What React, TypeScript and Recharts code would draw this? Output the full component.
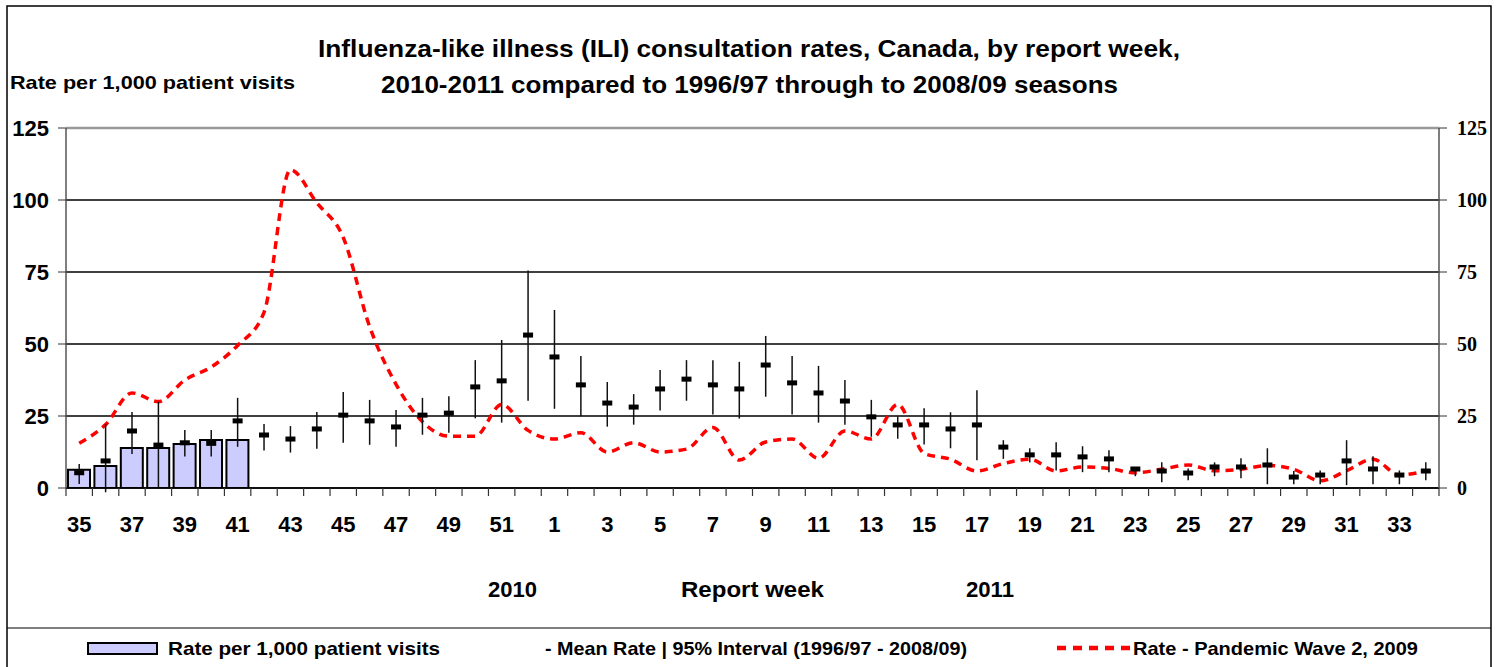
import React from 'react';
import { ComposedChart, Bar, Line, XAxis, YAxis, CartesianGrid, ErrorBar, ReferenceLine } from 'recharts';

// report weeks, 2010 (35-52) then 2011 (1-34)
const WEEKS = [
  '35', '36', '37', '38', '39', '40', '41', '42', '43', '44', '45', '46', '47', '48', '49', '50', '51', '52',
  '1', '2', '3', '4', '5', '6', '7', '8', '9', '10', '11', '12', '13', '14', '15', '16', '17',
  '18', '19', '20', '21', '22', '23', '24', '25', '26', '27', '28', '29', '30', '31', '32', '33', '34',
];

// 2010-2011 observed rate (only first weeks reported)
const RATE = [6.3, 7.6, 13.9, 13.9, 15.3, 16.7, 16.7];

// mean rate 1996/97 - 2008/09 and its 95% interval
const MEAN = [
  5.3, 9.4, 19.8, 14.9, 15.7, 15.5, 23.3, 18.4, 17.0, 20.5, 25.3, 23.3, 21.2, 25.3, 26.0, 35.1, 37.2, 53.1,
  45.5, 35.8, 29.5, 28.1, 34.4, 37.8, 35.8, 34.4, 42.7, 36.5, 33.0, 30.2, 24.7, 21.9, 21.9, 20.5, 21.9,
  14.2, 11.5, 11.5, 10.8, 10.1, 6.6, 5.9, 5.2, 7.3, 7.3, 8.0, 3.8, 4.5, 9.4, 6.6, 4.5, 5.9,
];
const CI_LOW = [
  1.4, -1.5, 11.8, 0, 10.9, 10.9, 14.3, 13.0, 12.3, 13.6, 15.7, 15.0, 14.3, 18.5, 19.2, 24.2, 22.7, 30.3,
  27.5, 24.9, 21.3, 22.0, 26.9, 30.3, 25.5, 24.1, 31.7, 25.5, 22.7, 22.0, 17.8, 17.1, 15.1, 13.8, 9.6,
  10.1, 8.9, 6.1, 5.5, 5.5, 4.1, 2.0, 2.7, 4.1, 3.4, 1.3, 1.3, 1.3, 1.0, 1.3, 1.3, 2.7,
];
const CI_HIGH = [
  8.3, 22.2, 26.4, 29.9, 20.1, 20.1, 31.3, 22.2, 21.5, 26.4, 33.3, 30.6, 27.1, 31.3, 31.9, 44.4, 51.4, 75.5,
  61.8, 45.8, 36.8, 32.6, 41.0, 44.4, 44.4, 43.8, 52.8, 45.8, 42.4, 37.5, 30.6, 24.9, 27.7, 26.3, 33.9,
  16.6, 13.8, 15.9, 14.5, 13.1, 7.3, 8.9, 6.8, 8.9, 10.3, 13.8, 5.9, 6.1, 16.6, 11.0, 6.1, 8.9,
];

// pandemic wave 2, 2009
const PANDEMIC = [
  15.5, 22, 33, 30, 37.5, 42, 49.5, 61, 110.5, 99, 87, 56, 36, 23, 18, 18, 29, 20,
  17, 19.2, 12.5, 15.7, 12.5, 13.5, 21, 9.7, 16, 17, 10.3, 19.8, 17, 29, 12, 10, 5.9,
  8.5, 10, 5.9, 7.3, 6.8, 5.3, 6.5, 8, 6, 6.5, 7.8, 6.5, 2.5, 6, 10, 4.5, 6,
];

const Y_TICKS = [0, 25, 50, 75, 100, 125];

const data = WEEKS.map((week, i) => ({
  week,
  rate: i < RATE.length ? RATE[i] : null,
  mean: MEAN[i],
  ci: [MEAN[i] - CI_LOW[i], CI_HIGH[i] - MEAN[i]],
  pandemic: PANDEMIC[i],
}));

const W = 1502;
const H = 667;
const LEFT_W = 66;
const RIGHT_W = 63;
const STEP = (W - LEFT_W - RIGHT_W) / WEEKS.length;
const SANS = '"Liberation Sans", Arial, sans-serif';
const SERIF = '"Liberation Serif", "Times New Roman", serif';

function WeekTick(props: any) {
  const { x, y, payload, index } = props;
  const half = STEP / 2;
  return (
    <g>
      <line x1={x - half} x2={x - half} y1={y} y2={y + 8} stroke="#333" strokeWidth={1.2} />
      {index === WEEKS.length - 1 && (
        <line x1={x + half} x2={x + half} y1={y} y2={y + 8} stroke="#333" strokeWidth={1.2} />
      )}
      {index % 2 === 0 && (
        <text x={x} y={y + 44} textAnchor="middle" fontFamily={SANS} fontWeight="bold" fontSize={22} fill="#000">
          {payload.value}
        </text>
      )}
    </g>
  );
}

function MeanDot(p: any) {
  if (p.cx == null || p.cy == null) return <g key={p.index} />;
  return <rect key={p.index} x={p.cx - 5} y={p.cy - 2.5} width={10} height={5} fill="#000" />;
}

export default function App() {
  return (
    <div style={{ position: 'absolute', left: 0, top: 0, width: W, height: H, background: '#fff' }}>
      <ComposedChart
        width={W}
        height={H}
        data={data}
        margin={{ top: 128, right: 0, bottom: 139, left: 0 }}
        barCategoryGap={0}
      >
        <CartesianGrid yAxisId="left" vertical={false} stroke="#000" strokeWidth={1.4} strokeOpacity={1} />
        <ReferenceLine yAxisId="left" y={125} stroke="#999" strokeWidth={2.5} />
        <XAxis
          dataKey="week"
          interval={0}
          height={40}
          tickLine={false}
          tickSize={0}
          tickMargin={0}
          axisLine={{ stroke: '#000', strokeWidth: 1.5 }}
          tick={<WeekTick />}
        />
        <YAxis
          yAxisId="left"
          domain={[0, 125]}
          ticks={Y_TICKS}
          interval={0}
          allowDataOverflow
          width={LEFT_W}
          tickSize={8}
          tickMargin={9}
          axisLine={{ stroke: '#555', strokeWidth: 1.5 }}
          tickLine={{ stroke: '#333' }}
          tick={{ fontSize: 22, fontWeight: 'bold', fill: '#000', fontFamily: SANS }}
        />
        <YAxis
          yAxisId="right"
          orientation="right"
          domain={[0, 125]}
          ticks={Y_TICKS}
          interval={0}
          allowDataOverflow
          width={RIGHT_W}
          tickSize={8}
          tickMargin={10}
          axisLine={{ stroke: '#555', strokeWidth: 1.5 }}
          tickLine={{ stroke: '#333' }}
          tick={{ fontSize: 20, fontWeight: 'bold', fill: '#000', fontFamily: SERIF }}
        />
        <Bar
          yAxisId="left"
          dataKey="rate"
          fill="#CCCCFF"
          stroke="#000"
          strokeWidth={2}
          barSize={22}
          isAnimationActive={false}
        />
        <Line
          yAxisId="left"
          type="monotone"
          dataKey="pandemic"
          stroke="#FF0000"
          strokeWidth={3.5}
          strokeDasharray="8 6"
          dot={false}
          activeDot={false}
          isAnimationActive={false}
        />
        <Line
          yAxisId="left"
          dataKey="mean"
          stroke="none"
          dot={MeanDot}
          activeDot={false}
          isAnimationActive={false}
        >
          <ErrorBar dataKey="ci" width={0} stroke="#111" strokeWidth={1.5} direction="y" />
        </Line>
      </ComposedChart>

      <svg
        width={W}
        height={H}
        style={{ position: 'absolute', left: 0, top: 0, pointerEvents: 'none' }}
        fontFamily={SANS}
        fontWeight="bold"
      >
        <rect x={7} y={6} width={1484} height={H} fill="none" stroke="#000" strokeWidth={1.5} />
        <line x1={7} x2={1491} y1={628} y2={628} stroke="#000" strokeWidth={1.2} />

        <text x={318} y={57} fontSize={24} textLength={862} lengthAdjust="spacingAndGlyphs">
          Influenza-like illness (ILI) consultation rates, Canada, by report week,
        </text>
        <text x={381} y={93} fontSize={24} textLength={737} lengthAdjust="spacingAndGlyphs">
          2010-2011 compared to 1996/97 through to 2008/09 seasons
        </text>
        <text x={10} y={89} fontSize={19} textLength={285} lengthAdjust="spacingAndGlyphs">
          Rate per 1,000  patient visits
        </text>

        <text x={488} y={597} fontSize={22} textLength={49} lengthAdjust="spacingAndGlyphs">2010</text>
        <text x={681} y={597} fontSize={22} textLength={143} lengthAdjust="spacingAndGlyphs">Report week</text>
        <text x={966} y={597} fontSize={22} textLength={48} lengthAdjust="spacingAndGlyphs">2011</text>

        <rect x={88} y={643} width={69} height={11} fill="#CCCCFF" stroke="#000" strokeWidth={2} />
        <text x={168} y={655} fontSize={19} textLength={272} lengthAdjust="spacingAndGlyphs">
          Rate per 1,000 patient visits
        </text>
        <text x={545} y={655} fontSize={19} textLength={422} lengthAdjust="spacingAndGlyphs">
          - Mean Rate | 95% Interval (1996/97 - 2008/09)
        </text>
        <line x1={1057} x2={1133} y1={648} y2={648} stroke="#FF0000" strokeWidth={4.5} strokeDasharray="9 7" />
        <text x={1133} y={655} fontSize={19} textLength={285} lengthAdjust="spacingAndGlyphs">
          Rate - Pandemic Wave 2, 2009
        </text>
      </svg>
    </div>
  );
}
